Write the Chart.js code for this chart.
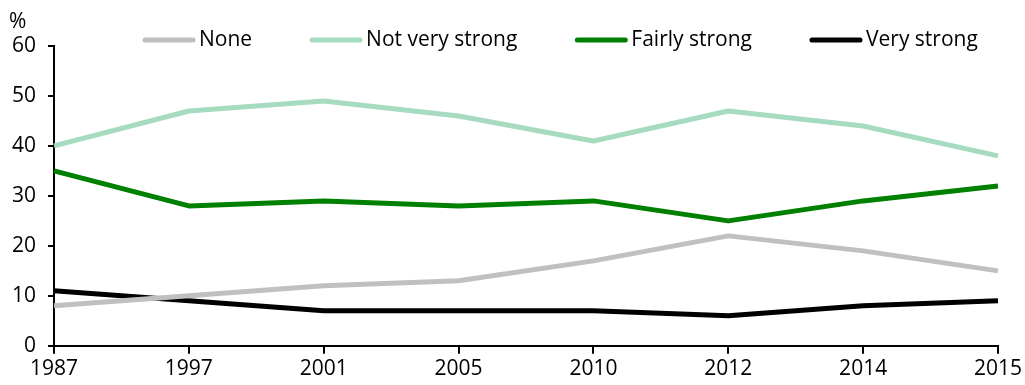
<!DOCTYPE html>
<html>
<head>
<meta charset="utf-8">
<script src="https://cdn.jsdelivr.net/npm/chart.js"></script>
<style>
  body { margin: 0; background: #fff; }
  #wrap { width: 1025px; height: 385px; }
</style>
</head>
<body>
<div id="wrap"><canvas id="grafico"></canvas></div>
<script>
// datos del grafico
const years = ['1987', '1997', '2001', '2005', '2010', '2012', '2014', '2015'];
const none = [8, 10, 12, 13, 17, 22, 19, 15];
const notVeryStrong = [40, 47, 49, 46, 41, 47, 44, 38];
const fairlyStrong = [35, 28, 29, 28, 29, 25, 29, 32];
const veryStrong = [11, 9, 7, 7, 7, 6, 8, 9];
const yTicks = [0, 10, 20, 30, 40, 50, 60];

const FONT = "'Open Sans', sans-serif";

// leyenda dibujada a mano, encima del area del grafico
const leyenda = {
  id: 'leyenda',
  afterDraw(chart) {
    const ctx = chart.ctx;
    ctx.save();
    ctx.font = '21px ' + FONT;
    ctx.textBaseline = 'middle';
    ctx.fillStyle = '#000';
    let x = 143;
    const y = 40;
    chart.data.datasets.forEach(ds => {
      ctx.strokeStyle = ds.borderColor;
      ctx.lineWidth = 5;
      ctx.lineCap = 'round';
      ctx.beginPath();
      ctx.moveTo(x + 2, y);
      ctx.lineTo(x + 50, y);
      ctx.stroke();
      ctx.fillText(ds.label, x + 56, y);
      x += 56 + ctx.measureText(ds.label).width + 58;
    });
    // simbolo % sobre el eje
    ctx.textAlign = 'left';
    ctx.fillText('%', 9, 22);
    ctx.restore();
  }
};

const ctx = document.getElementById('grafico').getContext('2d');
new Chart(ctx, {
  type: 'line',
  data: {
    labels: years,
    datasets: [
      { label: 'None', data: none, borderColor: '#c0c0c0' },
      { label: 'Not very strong', data: notVeryStrong, borderColor: '#a6dbc0' },
      { label: 'Fairly strong', data: fairlyStrong, borderColor: '#008000' },
      { label: 'Very strong', data: veryStrong, borderColor: '#000000' }
    ]
  },
  options: {
    responsive: true,
    maintainAspectRatio: false,
    animation: false,
    layout: { padding: { top: 46, right: 4, left: 0, bottom: 0 } },
    elements: {
      line: { borderWidth: 5, tension: 0, borderJoinStyle: 'round' },
      point: { radius: 0 }
    },
    plugins: {
      legend: { display: false },
      tooltip: { enabled: false }
    },
    scales: {
      x: {
        offset: false,
        grid: { drawOnChartArea: false, drawTicks: true, tickLength: 8, color: '#000', lineWidth: 2 },
        border: { color: '#000', width: 2 },
        ticks: { color: '#000', font: { family: FONT, size: 21 }, padding: 3, maxRotation: 0, autoSkip: false }
      },
      y: {
        min: 0,
        max: 60,
        afterBuildTicks(axis) { axis.ticks = yTicks.map(v => ({ value: v })); },
        grid: { drawOnChartArea: false, drawTicks: true, tickLength: 6, color: '#000', lineWidth: 2 },
        border: { color: '#000', width: 2 },
        ticks: { color: '#000', font: { family: FONT, size: 21 }, padding: 12 }
      }
    }
  },
  plugins: [leyenda]
});
</script>
</body>
</html>
